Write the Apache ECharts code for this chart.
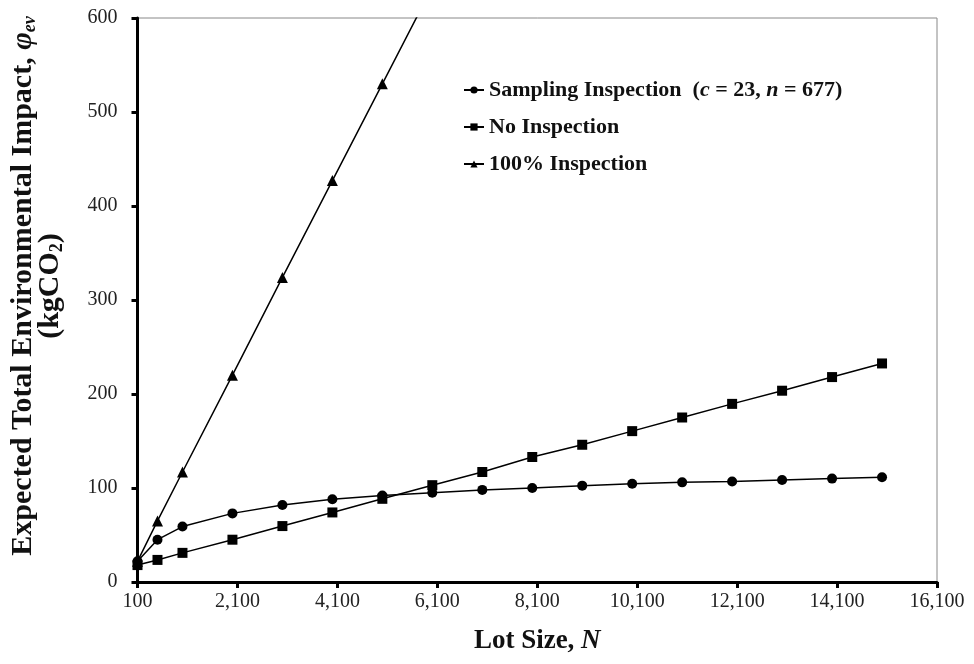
<!DOCTYPE html>
<html>
<head>
<meta charset="utf-8">
<script src="https://cdn.jsdelivr.net/npm/echarts@6/dist/echarts.min.js"></script>
<style>
  html, body { margin: 0; padding: 0; background: #fff; }
  #chart { width: 974px; height: 664px; }
</style>
</head>
<body>
<div id="chart"></div>
<script>
// lot sizes N
const lotSize = [100, 500, 1000, 2000, 3000, 4000, 5000, 6000, 7000, 8000, 9000, 10000, 11000, 12000, 13000, 14000, 15000]
const sampling = [22, 45, 59, 73, 82, 88, 92, 95, 98, 100, 102.5, 104.5, 106, 107, 108.5, 110, 111.5]
const noInspection = [18, 23.5, 31, 45, 59.5, 74, 88.5, 103, 117, 133, 146, 160.5, 175, 189.5, 203.5, 218, 232.5]
// 100% inspection runs off the top of the chart after 5,000
const fullLotSize = [100, 500, 1000, 2000, 3000, 4000, 5000, 6000]
const fullInspection = [22, 65, 117, 220, 324, 427, 530, 633]

const font = '"Liberation Serif", "Times New Roman", serif'

const pairs = (xs, ys) => xs.map((x, i) => [x, ys[i]])

const chart = echarts.init(document.getElementById('chart'))

const lineStyle = { color: '#000', width: 1.5 }

chart.setOption({
  animation: false,
  grid: {
    left: 132, right: 37, top: 18, bottom: 82,
    show: true, borderColor: '#888', borderWidth: 1,
  },
  legend: {
    orient: 'vertical',
    left: 458,
    top: 74,
    itemWidth: 20,
    itemHeight: 9,
    itemGap: 15,
    data: ['sampling', 'none', 'full'],
    formatter: (name) => {
      if (name === 'sampling') return 'Sampling Inspection  ({i|c} = 23, {i|n} = 677)'
      if (name === 'none') return 'No Inspection'
      return '100% Inspection'
    },
    textStyle: {
      fontFamily: font, fontSize: 22, fontWeight: 'bold', color: '#111',
      rich: {
        i: { fontFamily: font, fontSize: 22, fontWeight: 'bold', fontStyle: 'italic', color: '#111' },
      },
    },
  },
  xAxis: {
    type: 'value',
    min: 100,
    max: 16100,
    interval: 2000,
    name: 'Lot Size, {i|N}',
    nameLocation: 'middle',
    nameGap: 46,
    nameTextStyle: {
      fontFamily: font, fontSize: 27, fontWeight: 'bold', color: '#111',
      rich: { i: { fontFamily: font, fontSize: 27, fontWeight: 'bold', fontStyle: 'italic', color: '#111' } },
    },
    axisLine: { lineStyle: { color: '#000', width: 3 } },
    axisTick: { show: true, inside: false, length: 6, lineStyle: { color: '#000', width: 3 } },
    splitLine: { show: false },
    axisLabel: {
      fontFamily: font, fontSize: 20, color: '#222', margin: 10,
      formatter: (v) => v.toLocaleString('en-US'),
    },
  },
  yAxis: {
    type: 'value',
    min: 0,
    max: 600,
    interval: 100,
    name: 'Expected Total Environmental Impact, {i|φ}{sub|ev}\n(kgCO{sub2|2})',
    nameLocation: 'middle',
    nameRotate: 90,
    nameGap: 74,
    nameTextStyle: {
      fontFamily: font, fontSize: 30, fontWeight: 'bold', color: '#111', lineHeight: 27,
      padding: [0, 0, 0, 28],
      rich: {
        i: { fontFamily: font, fontSize: 30, fontWeight: 'bold', fontStyle: 'italic', color: '#111', lineHeight: 27 },
        sub: { fontFamily: font, fontSize: 18, fontWeight: 'bold', fontStyle: 'italic', color: '#111', verticalAlign: 'bottom', lineHeight: 27, padding: [0, 0, -3, 0] },
        sub2: { fontFamily: font, fontSize: 18, fontWeight: 'bold', color: '#111', verticalAlign: 'bottom', lineHeight: 27, padding: [0, 0, -3, 0] },
      },
    },
    axisLine: { show: true, lineStyle: { color: '#000', width: 3 } },
    axisTick: { show: true, inside: false, length: 6, lineStyle: { color: '#000', width: 3 } },
    splitLine: { show: false },
    axisLabel: { fontFamily: font, fontSize: 20, color: '#222', margin: 20 },
  },
  series: [
    {
      name: 'sampling',
      type: 'line',
      data: pairs(lotSize, sampling),
      symbol: 'circle',
      symbolSize: 10,
      itemStyle: { color: '#000' },
      lineStyle,
    },
    {
      name: 'none',
      type: 'line',
      data: pairs(lotSize, noInspection),
      symbol: 'rect',
      symbolSize: 10,
      itemStyle: { color: '#000' },
      lineStyle,
    },
    {
      name: 'full',
      type: 'line',
      data: pairs(fullLotSize, fullInspection),
      symbol: 'triangle',
      symbolSize: 11,
      itemStyle: { color: '#000' },
      lineStyle,
      clip: true,
    },
  ],
})
</script>
</body>
</html>
